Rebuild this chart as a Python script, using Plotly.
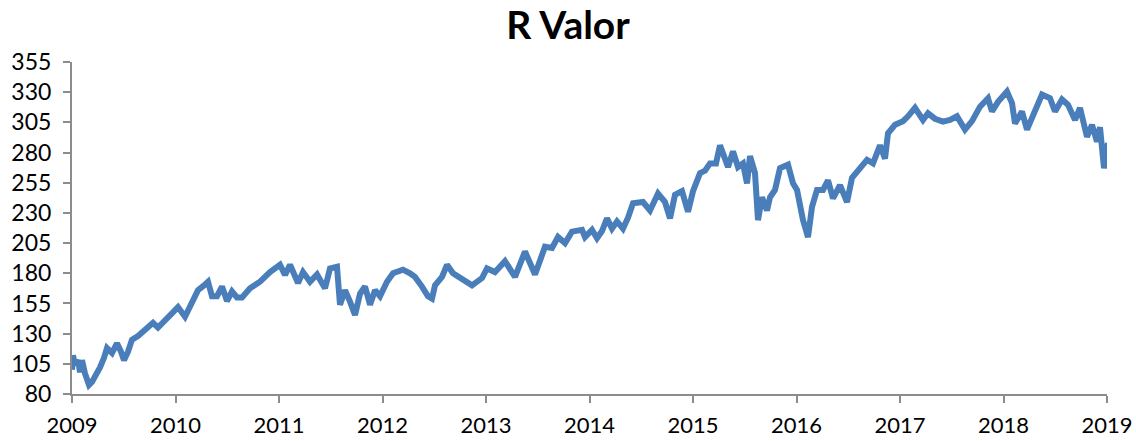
import plotly.graph_objects as go

# Pixel-traced positions converted to decimal years / values
px_x = [72, 73, 75, 78, 80, 82, 85, 89, 92, 95, 100, 104, 107, 112, 117, 121, 124, 128, 132, 138,
        145, 149, 153, 158, 165, 172, 178, 185, 192, 198, 204, 208, 212, 217, 222, 227, 232, 237, 242,
        250, 260, 270, 280, 285, 290, 298, 303, 310, 317, 325, 330, 337, 340, 345, 350, 355, 360, 365,
        370, 375, 380, 387, 393, 403, 410, 415, 422, 428, 432, 435, 442, 447, 453, 465, 472, 482, 487,
        495, 505, 515, 525, 535, 545, 552, 558, 565, 572, 582, 585, 592,
        597, 602, 607, 612, 617, 623, 628, 633, 643, 650, 658, 665, 670, 675, 682, 688, 693, 700, 705,
        710, 716, 720, 723, 728, 733, 738, 743, 747, 750, 755, 758, 762, 767, 770,
        775, 780, 788, 793, 797, 800, 803, 808, 812, 817, 823, 828, 833, 840, 847, 852, 860, 867, 873,
        880, 885, 888, 895, 903, 908, 915, 923, 928, 935,
        943, 950, 957, 965, 972, 980, 988, 992, 998, 1007, 1012, 1015, 1022, 1027, 1033, 1042, 1050,
        1055, 1062, 1068, 1075, 1080, 1087, 1092, 1097, 1100, 1104, 1106, 1108]
values = [100, 112, 104, 108, 98, 108, 97, 87.5, 90, 94, 102, 110, 118, 114, 122, 115, 108, 115, 125, 128,
          133, 135, 139, 135, 141, 146, 152, 144, 155, 166, 170, 173, 161, 161, 169, 157, 165, 160, 160,
          167.5, 173, 181, 187, 178.6, 187, 172, 181, 173, 179, 167.5, 184, 185.4, 154, 166, 156.5, 145.4, 163, 169,
          154, 166, 161, 173, 180, 183, 180, 177, 169, 161, 159, 170, 177, 187, 180, 174, 170, 176, 184,
          181, 190, 177, 198, 179, 202, 201, 210, 205, 214.5, 216, 210, 216,
          209, 215, 225.5, 217, 223, 217, 226, 238, 239, 232, 246, 239, 225.5, 245, 248, 231, 248, 263, 265,
          271, 271, 286, 279, 268, 281, 268, 271, 254.5, 277, 263, 224, 243, 232, 243,
          249, 267, 270, 254.5, 249, 235, 224, 210, 235, 249, 249, 257, 242, 253, 239, 259, 267, 274, 271,
          286, 275, 296, 303, 306, 310, 317, 307, 312.5, 308,
          305.6, 307, 310, 299, 306, 318, 325, 314, 322, 330.5, 321, 304, 314, 299, 311, 328, 325,
          314, 324, 319.5, 307, 317, 293, 303, 289, 301, 267, 280, 288]

years = [2009 + (p - 72) / 103.5 for p in px_x]

tick_years = list(range(2009, 2020))
tick_labels = [str(y) for y in tick_years]
y_ticks = list(range(80, 356, 25))

fig = go.Figure()
fig.add_trace(go.Scatter(x=years, y=values, mode="lines",
                         line=dict(color="#4A7EBB", width=6)))

axis_color = "#8c8c8c"
fig.update_layout(
    width=1136, height=441,
    paper_bgcolor="white", plot_bgcolor="white",
    margin=dict(l=72, r=29, t=62, b=47, autoexpand=False),
    showlegend=False,
    title=dict(text="<b>R Valor</b>", x=568 / 1136, xanchor="center", y=1 - 25 / 441, yanchor="middle",
               font=dict(family="Lato", size=39, color="black")),
    font=dict(family="Lato", size=23, color="black"),
)
fig.update_xaxes(range=[2009, 2019], tickvals=tick_years, ticktext=tick_labels, automargin=False,
                 showgrid=False, zeroline=False, showline=True, linecolor=axis_color, linewidth=2,
                 ticks="outside", ticklen=7, tickwidth=2, tickcolor=axis_color,
                 tickfont=dict(family="Lato", size=22, color="black"), ticklabelstandoff=4)
fig.update_yaxes(range=[80, 355], tickvals=y_ticks, automargin=False,
                 showgrid=False, zeroline=False, showline=True, linecolor=axis_color, linewidth=2,
                 ticks="outside", ticklen=7, tickwidth=2, tickcolor=axis_color,
                 tickfont=dict(family="Lato", size=23, color="black"), ticklabelstandoff=7)

# remove the default 8px page margin so the figure fills the window exactly
fig.write_html("out.html", config={"displayModeBar": False},
               post_script="document.body.style.margin='0';")
